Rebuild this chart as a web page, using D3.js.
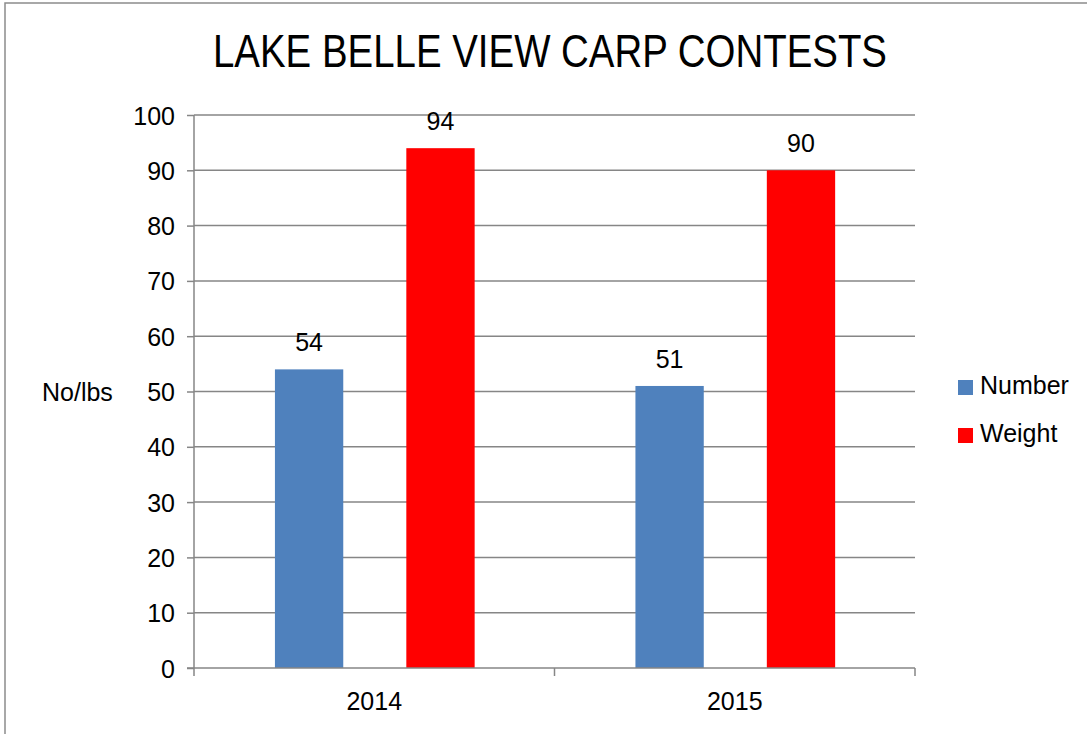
<!DOCTYPE html>
<html><head><meta charset="utf-8">
<script src="https://cdn.jsdelivr.net/npm/d3@7"></script>
<style>body{margin:0;background:#fff}svg{display:block}</style>
</head><body>
<svg id="chart" width="1087" height="734"></svg>
<script>
const title = "LAKE BELLE VIEW CARP CONTESTS";
const categories = ["2014", "2015"];
const seriesNames = ["Number", "Weight"];
const seriesColors = ["#4F81BD", "#FF0000"];
const numberValues = [54, 51];
const weightValues = [94, 90];
const yTicks = [0, 10, 20, 30, 40, 50, 60, 70, 80, 90, 100];
const yLabel = "No/lbs";

const svg = d3.select("#chart");
const W = 1087, H = 734;
const plot = {left: 194, right: 915, top: 115, bottom: 668};
const fontMain = "'Liberation Sans', Arial, sans-serif";
const grid = "#868686";

// outer border
svg.append("rect").attr("x", 5).attr("y", 3).attr("width", W + 10).attr("height", H + 10)
  .attr("fill", "#fff").attr("stroke", "#8c8c8c").attr("stroke-width", 1.5);

const x0 = d3.scaleBand().domain(categories).range([plot.left, plot.right]).padding(0);
const cw = x0.bandwidth();
const x1 = d3.scaleBand().domain(seriesNames).range([cw * 0.2245, cw * 0.7785]).paddingInner(0.48).paddingOuter(0);
const y = d3.scaleLinear().domain([0, 100]).range([plot.bottom, plot.top]);

// gridlines
svg.append("g").selectAll("line").data(yTicks.filter(d => d > 0)).join("line")
  .attr("x1", plot.left).attr("x2", plot.right)
  .attr("y1", d => y(d)).attr("y2", d => y(d))
  .attr("stroke", grid).attr("stroke-width", 1.5);

// bars
const data = categories.map((c, i) => ({cat: c, vals: [numberValues[i], weightValues[i]]}));
const groups = svg.append("g").selectAll("g").data(data).join("g")
  .attr("transform", d => `translate(${x0(d.cat)},0)`);
groups.selectAll("rect").data(d => d.vals.map((v, j) => ({s: seriesNames[j], v, j}))).join("rect")
  .attr("x", d => x1(d.s)).attr("width", x1.bandwidth())
  .attr("y", d => y(d.v)).attr("height", d => y(0) - y(d.v))
  .attr("fill", d => seriesColors[d.j]);
groups.selectAll("text").data(d => d.vals.map((v, j) => ({s: seriesNames[j], v, j}))).join("text")
  .attr("x", d => x1(d.s) + x1.bandwidth() / 2).attr("y", d => y(d.v) - 18)
  .attr("text-anchor", "middle").attr("font-family", fontMain).attr("font-size", 25)
  .attr("fill", "#000").text(d => d.v);

// y axis
const yAxis = d3.axisLeft(y).tickValues(yTicks).tickSize(7).tickPadding(12);
const gy = svg.append("g").attr("transform", `translate(${plot.left},0)`).call(yAxis);
gy.select(".domain").attr("stroke", grid).attr("stroke-width", 1.5).attr("d", `M0,${plot.top}V${plot.bottom}`);
gy.selectAll(".tick line").attr("stroke", grid).attr("stroke-width", 1.5);
gy.selectAll(".tick text").attr("font-family", fontMain).attr("font-size", 25).attr("fill", "#000").attr("dy", "0.36em");

// x axis
const gx = svg.append("g").attr("transform", `translate(0,${plot.bottom})`);
gx.append("line").attr("x1", plot.left - 7).attr("x2", plot.right).attr("y1", 0).attr("y2", 0)
  .attr("stroke", grid).attr("stroke-width", 1.5);
const bounds = categories.map(c => x0(c)).concat([plot.right]);
gx.selectAll("line.t").data(bounds).join("line").attr("class", "t")
  .attr("x1", d => d).attr("x2", d => d).attr("y1", 0).attr("y2", 8)
  .attr("stroke", grid).attr("stroke-width", 1.5);
gx.selectAll("text").data(categories).join("text")
  .attr("x", d => x0(d) + cw / 2).attr("y", 42)
  .attr("text-anchor", "middle").attr("font-family", fontMain).attr("font-size", 25)
  .attr("fill", "#000").text(d => d);

// y label
svg.append("text").attr("x", 42).attr("y", 401).attr("font-family", fontMain).attr("font-size", 25)
  .attr("fill", "#000").text(yLabel);

// title
svg.append("text").attr("x", 213).attr("y", 67)
  .attr("textLength", 674).attr("lengthAdjust", "spacingAndGlyphs")
  .attr("font-family", fontMain).attr("font-size", 46).attr("fill", "#000").text(title);

// legend
const lg = svg.append("g").selectAll("g").data(seriesNames).join("g")
  .attr("transform", (d, i) => `translate(958,${394 + i * 48})`);
lg.append("rect").attr("x", 0).attr("y", -14).attr("width", 15).attr("height", 15)
  .attr("fill", (d, i) => seriesColors[i]);
lg.append("text").attr("x", 22).attr("y", 0).attr("font-family", fontMain).attr("font-size", 25)
  .attr("fill", "#000").text(d => d);
</script>
</body></html>
